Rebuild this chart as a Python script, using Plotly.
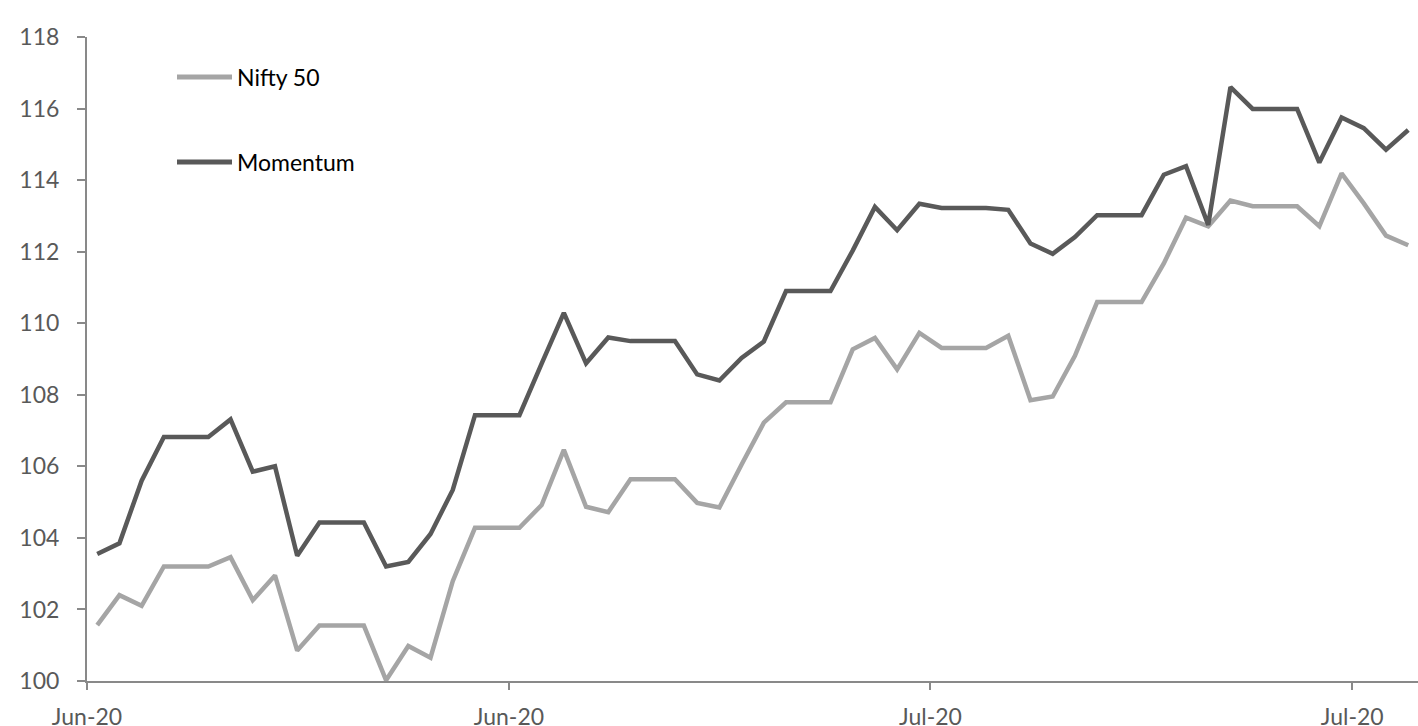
import plotly.graph_objects as go

# ---- data ----
nifty50 = [101.56, 102.40, 102.10, 103.20, 103.20, 103.20, 103.46, 102.26, 102.95, 100.85,
           101.55, 101.55, 101.55, 100.02, 100.98, 100.65, 102.79, 104.28, 104.28, 104.28,
           104.92, 106.46, 104.87, 104.72, 105.64, 105.64, 105.64, 104.98, 104.85, 106.05,
           107.22, 107.79, 107.79, 107.79, 109.27, 109.59, 108.71, 109.73, 109.31, 109.31,
           109.31, 109.65, 107.85, 107.95, 109.09, 110.59, 110.59, 110.59, 111.67, 112.95,
           112.71, 113.43, 113.27, 113.27, 113.27, 112.71, 114.19, 113.35, 112.45, 112.18]
momentum = [103.55, 103.85, 105.60, 106.82, 106.82, 106.82, 107.31, 105.85, 106.00, 103.50,
            104.43, 104.43, 104.43, 103.20, 103.33, 104.11, 105.34, 107.43, 107.43, 107.43,
            108.87, 110.29, 108.88, 109.60, 109.50, 109.50, 109.50, 108.57, 108.40, 109.03,
            109.49, 110.90, 110.90, 110.90, 112.03, 113.25, 112.60, 113.34, 113.22, 113.22,
            113.22, 113.17, 112.23, 111.94, 112.41, 113.02, 113.02, 113.02, 114.15, 114.39,
            112.75, 116.60, 115.99, 115.99, 115.99, 114.49, 115.75, 115.45, 114.85, 115.40]
x_index = list(range(len(nifty50)))
tick_positions = [-0.46, 18.53, 37.5, 56.48]
tick_labels = ["Jun-20", "Jun-20", "Jul-20", "Jul-20"]
series_names = ["Nifty 50", "Momentum"]
series_colors = ["#A5A5A5", "#595959"]

W, H = 1418, 726
ML, MR, MT, MB = 87, 0, 37, 45
FONT = "Lato, 'Open Sans', sans-serif"

fig = go.Figure()
for name, vals, col in zip(series_names, [nifty50, momentum], series_colors):
    fig.add_trace(go.Scatter(x=x_index, y=vals, mode="lines", name=name,
                             line=dict(color=col, width=4.5), showlegend=False))

# custom legend (longer line samples, wide spacing as in the reference)
def px_x(p):
    return (p - ML) / (W - ML - MR)

def px_y(p):
    return 1 - (p - MT) / (H - MT - MB)

legend_rows = [77, 162]
for name, col, yy in zip(series_names, series_colors, legend_rows):
    fig.add_shape(type="line", xref="paper", yref="paper",
                  x0=px_x(177), x1=px_x(232), y0=px_y(yy), y1=px_y(yy),
                  line=dict(color=col, width=5))
    fig.add_annotation(xref="paper", yref="paper", x=px_x(235), y=px_y(yy),
                       text=name, showarrow=False, xanchor="left", yanchor="middle",
                       font=dict(family=FONT, size=23, color="#000000"))

fig.update_layout(
    width=W, height=H,
    margin=dict(l=ML, r=MR, t=MT, b=MB, pad=0, autoexpand=False),
    paper_bgcolor="white", plot_bgcolor="white",
    font=dict(family=FONT, size=23, color="#595959"),
    xaxis=dict(range=[-0.46, 59.44], tickmode="array", tickvals=tick_positions,
               ticktext=tick_labels, showgrid=False, zeroline=False, automargin=False,
               showline=True, linecolor="#898989", linewidth=2,
               ticks="outside", ticklen=7, tickwidth=2, tickcolor="#898989",
               ticklabelstandoff=7,
               tickfont=dict(family=FONT, size=23, color="#595959")),
    yaxis=dict(range=[100, 118], tickmode="array", automargin=False,
               tickvals=list(range(100, 119, 2)), showgrid=False, zeroline=False,
               showline=True, linecolor="#898989", linewidth=2,
               ticks="outside", ticklen=8, tickwidth=2, tickcolor="#898989",
               ticklabelstandoff=13,
               tickfont=dict(family=FONT, size=23, color="#595959")),
)

fig.write_html("out.html")
